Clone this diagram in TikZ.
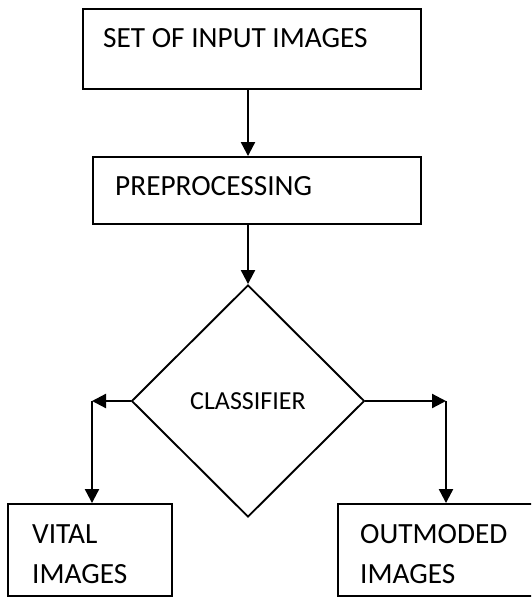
\documentclass[tikz,border=0pt]{standalone}
\usepackage{fontspec}
\setmainfont{Carlito}
\usetikzlibrary{shapes.geometric,arrows.meta}
\begin{document}
\begin{tikzpicture}[x=1pt,y=-1pt,
  box/.style={draw,line width=1.9pt,rectangle,inner sep=0pt},
  lbl/.style={anchor=base west,inner sep=0pt,font=\fontsize{29.3}{35}\selectfont},
  arr/.style={line width=2.2pt,-{Triangle[width=14pt,length=14pt]}},
  decision/.style={draw,line width=1.9pt,diamond,inner sep=0pt,font=\fontsize{26}{31}\selectfont}]
\useasboundingbox (0,0) rectangle (531,597);
\clip (0,0) rectangle (531,597);
% boxes
\node[box,minimum width=338pt,minimum height=80pt] (inp) at (252,49) {};
\node[lbl] (tinp) at (103,47) {SET OF INPUT IMAGES};
\node[box,minimum width=328pt,minimum height=67pt] (pre) at (257,190.5) {};
\node[lbl] (tpre) at (115,195) {PREPROCESSING};
\node[decision,minimum width=233pt,minimum height=232pt] (cls) at (248,401) {CLASSIFIER};
\node[box,minimum width=164pt,minimum height=92pt] (vit) at (90,550) {};
\node[lbl] (tvit1) at (32,543) {VITAL};
\node[lbl] (tvit2) at (32,583) {IMAGES};
\node[box,minimum width=240pt,minimum height=92pt] (out) at (458,550) {};
\node[lbl] (tout1) at (360,543) {OUTMODED};
\node[lbl] (tout2) at (360,583) {IMAGES};
% connectors
\coordinate (ax) at (248,0);
\draw[arr] (inp.south -| ax) -- (pre.north -| ax);
\draw[arr] (pre.south -| ax) -- (cls.north);
\coordinate (cl) at (92,401);
\coordinate (cr) at (446,401);
\draw[arr] (cls.west) -- (cl);
\draw[arr] (cls.east) -- (cr);
\draw[arr] (cl) -- (cl |- vit.north);
\draw[arr] (cr) -- (cr |- out.north);
\end{tikzpicture}
\end{document}
